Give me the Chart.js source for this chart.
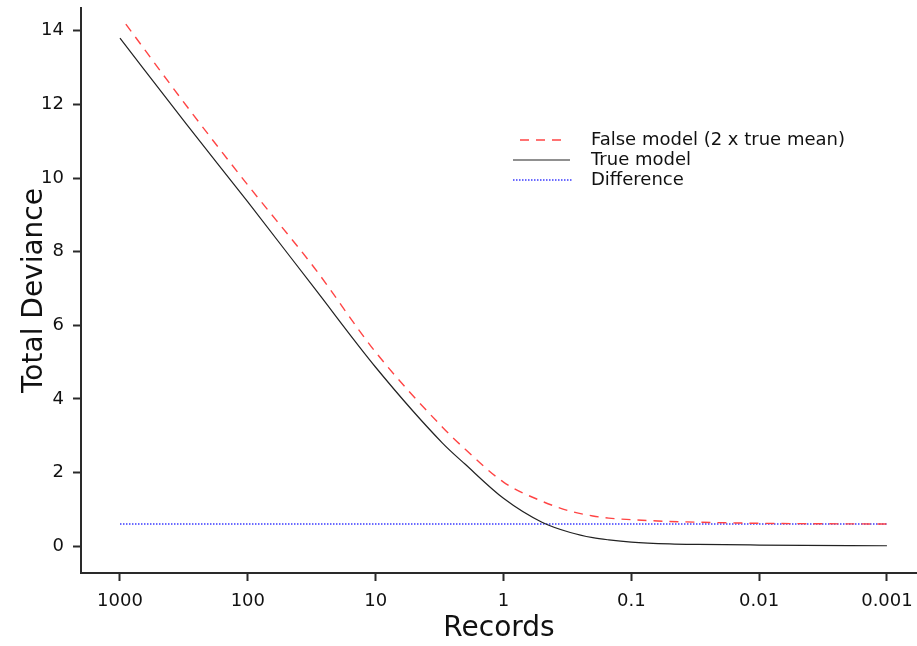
<!DOCTYPE html>
<html>
<head>
<meta charset="utf-8">
<script src="https://cdn.jsdelivr.net/npm/chart.js@4"></script>
<style>
  html, body { margin: 0; padding: 0; background: #fff; }
  #wrap { width: 917px; height: 646px; position: relative; }
</style>
</head>
<body>
<div id="wrap"><canvas id="chart"></canvas></div>
<script>
// ── Data ────────────────────────────────────────────
const RECORDS       = [1000, 300, 100, 30, 10, 3, 2, 1, 0.5, 0.3, 0.2, 0.15, 0.1, 0.05, 0.03, 0.01, 0.001];
const TRUE_MODEL    = [13.8, 11.45, 9.35, 7.0, 4.86, 2.8, 2.23, 1.3, 0.65, 0.37, 0.23, 0.17, 0.11, 0.06, 0.045, 0.03, 0.01];
const FALSE_RECORDS = [900, 300, 100, 30, 10, 3, 2, 1, 0.5, 0.3, 0.2, 0.15, 0.1, 0.05, 0.03, 0.01, 0.001];
const FALSE_MODEL   = [14.18, 11.95, 9.81, 7.55, 5.27, 3.23, 2.64, 1.74, 1.22, 0.95, 0.82, 0.76, 0.72, 0.67, 0.65, 0.62, 0.6];
const DIFF_RECORDS  = [1000, 0.001];
const DIFFERENCE    = [0.6, 0.6];
const X_TICKS       = [1000, 100, 10, 1, 0.1, 0.01, 0.001];
const X_LABELS      = ['1000', '100', '10', '1', '0.1', '0.01', '0.001'];
const Y_TICKS       = [0, 2, 4, 6, 8, 10, 12, 14];

const pts = (xs, ys) => xs.map((x, i) => ({ x, y: ys[i] }));

const FONT = 'DejaVu Sans';
const AXIS = '#2a2a2a';

// ── Legend drawn inside the plot, top right ──────────
const insideLegend = {
  id: 'insideLegend',
  afterDraw(chart) {
    const ctx = chart.ctx;
    const rows = [
      { ds: chart.data.datasets[0], y: 140, x0: 520, x1: 568 },
      { ds: chart.data.datasets[1], y: 160, x0: 513, x1: 570 },
      { ds: chart.data.datasets[2], y: 180, x0: 513, x1: 572 }
    ];
    ctx.save();
    ctx.font = '18px "' + FONT + '"';
    ctx.textBaseline = 'middle';
    rows.forEach(r => {
      ctx.beginPath();
      ctx.setLineDash(r.ds.borderDash || []);
      ctx.strokeStyle = r.ds.borderColor;
      ctx.lineWidth = r.ds.borderWidth;
      ctx.moveTo(r.x0, r.y);
      ctx.lineTo(r.x1, r.y);
      ctx.stroke();
      ctx.setLineDash([]);
      ctx.fillStyle = '#111';
      ctx.fillText(r.ds.label, 591, r.y);
    });
    ctx.restore();
  }
};

new Chart(document.getElementById('chart'), {
  type: 'line',
  data: {
    datasets: [
      {
        label: 'False model (2 x true mean)',
        data: pts(FALSE_RECORDS, FALSE_MODEL),
        borderColor: '#ff4444',
        borderWidth: 1.4,
        borderDash: [9, 7],
        pointRadius: 0,
        cubicInterpolationMode: 'monotone'
      },
      {
        label: 'True model',
        data: pts(RECORDS, TRUE_MODEL),
        borderColor: '#222',
        borderWidth: 1.2,
        pointRadius: 0,
        cubicInterpolationMode: 'monotone'
      },
      {
        label: 'Difference',
        data: pts(DIFF_RECORDS, DIFFERENCE),
        borderColor: '#3a3aff',
        borderWidth: 1.4,
        borderDash: [1.5, 1.5],
        pointRadius: 0
      }
    ]
  },
  options: {
    responsive: true,
    maintainAspectRatio: false,
    animation: false,
    layout: { padding: { top: 8, right: 0, left: 0, bottom: 0 } },
    plugins: { legend: { display: false }, tooltip: { enabled: false } },
    scales: {
      x: {
        type: 'logarithmic',
        reverse: true,
        min: 0.000582,
        max: 2018,
        afterBuildTicks: s => { s.ticks = X_TICKS.map(v => ({ value: v })); },
        afterFit: s => { s.height = 73; s.paddingLeft = 0; s.paddingRight = 0; },
        ticks: {
          autoSkip: false,
          maxRotation: 0,
          padding: 10,
          color: '#111',
          font: { family: FONT, size: 18 },
          callback: (v) => X_LABELS[X_TICKS.indexOf(v)] ?? ''
        },
        grid: { drawOnChartArea: false, drawTicks: true, tickLength: 8, tickWidth: 2, tickColor: AXIS },
        border: { display: true, color: AXIS, width: 2 },
        title: {
          display: true, text: 'Records', color: '#111',
          font: { family: FONT, size: 28 }, padding: { top: 3, bottom: 0 }
        }
      },
      y: {
        min: -0.73,
        max: 14.62,
        afterBuildTicks: s => { s.ticks = Y_TICKS.map(v => ({ value: v })); },
        afterFit: s => { s.width = 81; s.paddingTop = 0; s.paddingBottom = 0; },
        ticks: {
          padding: 9,
          color: '#111',
          font: { family: FONT, size: 18 }
        },
        grid: { drawOnChartArea: false, drawTicks: true, tickLength: 8, tickWidth: 2, tickColor: AXIS },
        border: { display: true, color: AXIS, width: 2 },
        title: {
          display: true, text: 'Total Deviance', color: '#111',
          font: { family: FONT, size: 28 }, padding: { top: 18, bottom: 0 }
        }
      }
    }
  },
  plugins: [insideLegend]
});
</script>
</body>
</html>
